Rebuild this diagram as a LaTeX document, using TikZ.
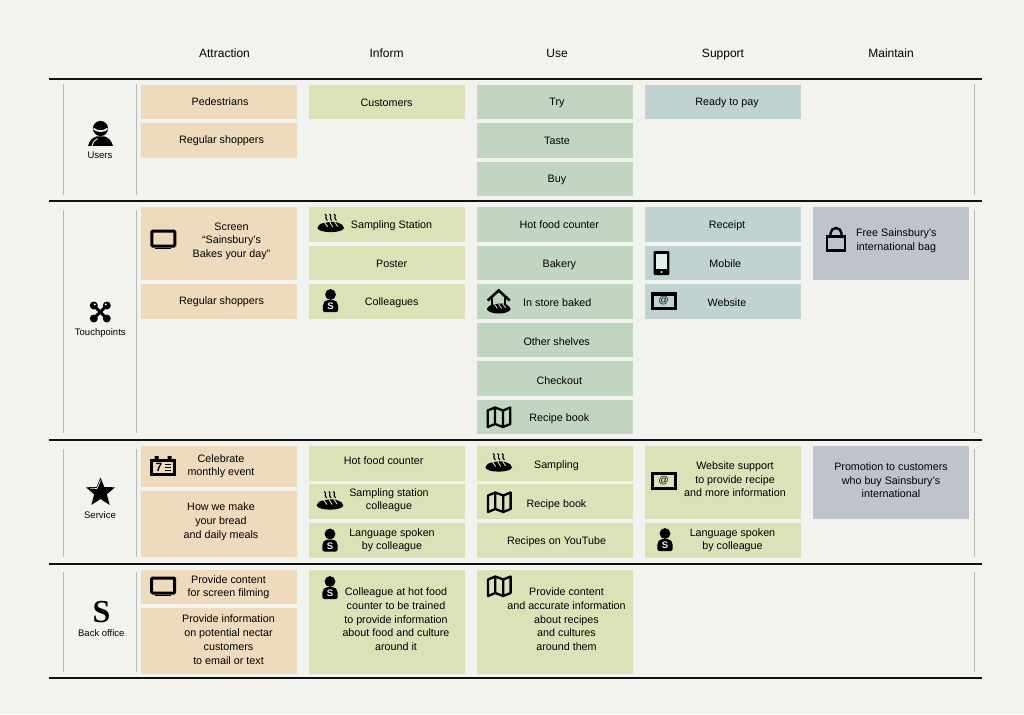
\documentclass[tikz,border=0pt]{standalone}
\usepackage{fontspec}
\setmainfont{Liberation Sans}
\newfontfamily\serifglyph{Liberation Serif}
\usetikzlibrary{
    positioning,
    calc
}
\definecolor{pagefill}{HTML}{F2F3EE}
\definecolor{attractfill}{HTML}{EEDABC}
\definecolor{informfill}{HTML}{DCE1B8}
\definecolor{usefill}{HTML}{C1D5C2}
\definecolor{supportfill}{HTML}{C1D2D2}
\definecolor{maintainfill}{HTML}{BFC3CB}
\definecolor{ruleline}{HTML}{111111}
\definecolor{laneline}{HTML}{B8B9B4}

\tikzset{
    % Icons, each drawn round its own centre
    tvicon/.pic={
        \draw[line width=3, rounded corners=1] (-11.5,-8.5) rectangle (11.5,6.5);
        \fill (-8,8) rectangle (8,9.6);
    },
    loaficon/.pic={
        \fill (-13.3,4.5) .. controls (-12,0) and (-8,-0.5) .. (-6,-0.5)
            .. controls (-3,-2) and (6,-2) .. (8,-0.5)
            .. controls (11,0) and (12.5,2) .. (13.3,4.5)
            .. controls (12,10) and (-12,10) .. (-13.3,4.5) -- cycle;
        \draw[informfill, line width=0.9] (-6,-0.8) -- (-3,3.5) (-1,-1.5) -- (2,3.5) (4,-1.5) -- (7,3);
    },
    breadicon/.pic={
        \pic {loaficon};
        \foreach \steamx in {-4.5,0,4.5}
            \draw[line width=1.1] (\steamx-1.2,-9.5) .. controls (\steamx+2,-7.5) and (\steamx-2.5,-6) .. (\steamx+1.2,-3);
    },
    colleagueicon/.pic={
        \fill (0,-6) circle (5.4);
        \fill[rounded corners=2] (-7.6,11.5) -- (-7.6,3) -- (-4.5,-0.5) -- (4.5,-0.5) -- (7.6,3) -- (7.6,11.5) -- cycle;
        \node[text=pagefill, font=\bfseries\fontsize{9.5}{9.5}\selectfont, inner sep=0pt] (glyph) at (0,5.8) {S};
    },
    phoneicon/.pic={
        \fill[rounded corners=1] (-7.8,-12) rectangle (7.8,12);
        \fill[supportfill!40!white] (-5.6,-9.5) rectangle (5.6,6);
        \fill[supportfill!40!white] (0,9) circle (1.2);
    },
    maileicon/.pic={
        \draw[line width=3.2] (-11.4,-7.4) rectangle (11.4,7.4);
        \node[font=\fontsize{10}{10}\selectfont, inner sep=0pt] (glyph) at (0,-0.5) {@};
    },
    mapicon/.pic={
        \draw[line width=2.3, line join=round] (-11.3,-6.5) -- (-4,-9.5) -- (4,-6.5) -- (11.3,-9.5) -- (11.3,7) -- (4,10) -- (-4,7) -- (-11.3,10) -- cycle
            (-4,-9.5) -- (-4,7) (4,-6.5) -- (4,10);
    },
    houseicon/.pic={
        \draw[line width=2.6] (-11,-1) -- (0,-11) -- (11,-1);
        \draw[line width=2.4] (-6.5,-4) -- (-6.5,4) (6.5,-4) -- (6.5,4);
        \fill (-12,7.5) .. controls (-10,3.5) and (-6,3) .. (-4,3)
            .. controls (0,1.5) and (6,2) .. (8,3)
            .. controls (10,4) and (11,5.5) .. (12,7.5)
            .. controls (10,13.5) and (-10,13.5) .. (-12,7.5) -- cycle;
        \draw[usefill, line width=0.9] (-4,3) -- (-1.5,7) (0,2.5) -- (3,7) (4,2.5) -- (7,6.5);
    },
    calendaricon/.pic={
        \draw[line width=2.8] (-11.6,-5.8) rectangle (11.6,8.4);
        \fill (-8.5,-9.8) rectangle (-4.5,-6) (4.5,-9.8) rectangle (8.5,-6);
        \node[font=\bfseries\fontsize{12}{12}\selectfont, inner sep=0pt] (glyph) at (-4.2,1.3) {7};
        \draw[line width=0.9] (1.5,-1.5) -- (8,-1.5) (1.5,1.3) -- (8,1.3) (1.5,4.1) -- (8,4.1);
    },
    bagicon/.pic={
        \draw[line width=2.4] (-9,-3) rectangle (9,11);
        \draw[line width=2.4] (-5.5,-3) -- (-5.5,-6) arc[start angle=180, end angle=360, radius=5.5] -- (5.5,-3);
    },
    personicon/.pic={
        \fill (0,-5) circle (7.6);
        \draw[pagefill, line width=1.6] (-7,-5) .. controls (-3,-1.4) and (3,-1.4) .. (7,-5);
        \fill (-12.5,12.5) .. controls (-11,7) and (-8,4) .. (-4,3) -- (4,3) .. controls (8,4) and (11,7) .. (12.5,12.5) -- cycle;
        \draw[pagefill, line width=0.9] (-8.5,12.5) .. controls (-7.5,9) and (-6,6.5) .. (-3,5);
    },
    clustericon/.pic={
        \draw[line width=3] (-6.5,-6.5) -- (6.5,6.5) (-6.5,6.5) -- (6.5,-6.5);
        \foreach \spotx/\spoty in {-6.5/-6.5,6.5/-6.5,-6.5/6.5,6.5/6.5}
            \fill (\spotx,\spoty) circle (4);
        \fill[pagefill] (-5.5,-7.5) circle (1.1) (5.5,-7.5) circle (1.1);
    },
    staricon/.pic={
        \fill (0,-15) -- (3.9,-5.4) -- (14.6,-5.2) -- (6.3,1.8) -- (9.2,12.5) -- (0,6.5) -- (-9.2,12.5) -- (-6.3,1.8) -- (-14.6,-5.2) -- (-3.9,-5.4) -- cycle;
        \draw[pagefill, line width=0.7] (0,-12) -- (-3.5,-4) -- (-10,-4.3);
    },
    % Cards and their words
    card/.style={minimum width=155.5, inner sep=0pt, outer sep=0pt},
    attract/.style={card, fill=attractfill},
    inform/.style={card, fill=informfill},
    use/.style={card, fill=usefill},
    support/.style={card, fill=supportfill},
    maintain/.style={card, fill=maintainfill},
    strutted/.style={inner sep=0pt, align=center, yshift=-1.7pt, execute at begin node=\strut, execute at end node=\strut},
    cardtext/.style={strutted, font=\fontsize{10.75}{13.7}\selectfont},
    headtext/.style={strutted, font=\fontsize{12}{14}\selectfont},
    lanetext/.style={strutted, font=\fontsize{9.5}{11}\selectfont},
    rowrule/.style={ruleline, line width=2}
}

\begin{document}
\begin{tikzpicture}[x=1pt, y=-1pt]
    \useasboundingbox[fill=pagefill] (0,0) rectangle (1024,714);

    % column heads
    \node[headtext] (attraction) at (224.5,53.5) {Attraction};
    \node[headtext] (informhead) at (386.5,53.5) {Inform};
    \node[headtext] (usehead) at (557,53.5) {Use};
    \node[headtext] (supporthead) at (723,53.5) {Support};
    \node[headtext] (maintainhead) at (891,53.5) {Maintain};

    % rules between the rows
    \foreach \ruley in {79,201,440,564,678}
        \draw[rowrule] (48.5,\ruley) -- (981.7,\ruley);

    % thin lane edges
    \foreach \lanetop/\lanebot in {84/195,210/433,449/557,572/672}
        \foreach \lanex/\lanewidth in {63.8/0.8,136.8/1.3,974.7/1.2}
            \draw[laneline, line width=\lanewidth] (\lanex,\lanetop) -- (\lanex,\lanebot);

    % row labels
    \pic at (100.5,133.5) {personicon};
    \node[lanetext] (users) at (100,155) {Users};
    \pic at (100.3,312) {clustericon};
    \node[lanetext] (touchpoints) at (100.3,331.5) {Touchpoints};
    \pic at (100.5,492.5) {staricon};
    \node[lanetext] (service) at (100,515) {Service};
    \node[font=\serifglyph\bfseries\fontsize{32}{32}\selectfont, inner sep=0pt] (backglyph) at (101.5,612.5) {S};
    \node[lanetext] (backoffice) at (101.3,632.5) {Back office};

    % users row
    \node[attract, minimum height=34.8] (pedestrians) at (218.8,102) {};
    \node[cardtext] (pedestrianstext) at (220,101) {Pedestrians};
    \node[attract, minimum height=34.8] (regulara) at (218.8,140.3) {};
    \node[cardtext] (regularatext) at (221.5,139.5) {Regular shoppers};
    \node[inform, minimum height=34.8] (customers) at (386.8,102) {};
    \node[cardtext] (customerstext) at (386.5,101.7) {Customers};
    \node[use, minimum height=34.8] (try) at (554.8,102) {};
    \node[cardtext] (trytext) at (557,100.7) {Try};
    \node[use, minimum height=34.8] (taste) at (554.8,140.3) {};
    \node[cardtext] (tastetext) at (557,139.7) {Taste};
    \node[use, minimum height=34.8] (buy) at (554.8,179) {};
    \node[cardtext] (buytext) at (557,178) {Buy};
    \node[support, minimum height=34.8] (ready) at (722.8,102) {};
    \node[cardtext] (readytext) at (727,100.7) {Ready to pay};

    % touchpoints row
    \node[attract, minimum height=73] (screen) at (218.8,243.5) {};
    \node[cardtext] (screentext) at (231.5,240.5) {Screen\\“Sainsbury’s\\Bakes your day”};
    \pic at (163.3,239.5) {tvicon};
    \node[attract, minimum height=34.8] (regularb) at (218.8,301.4) {};
    \node[cardtext] (regularbtext) at (221.5,300.5) {Regular shoppers};
    \node[inform, minimum height=34.8] (station) at (386.8,224.4) {};
    \node[cardtext] (stationtext) at (391.5,224) {Sampling Station};
    \pic at (330.7,223.5) {breadicon};
    \node[inform, minimum height=34.8] (poster) at (386.8,262.9) {};
    \node[cardtext] (postertext) at (391.7,262.7) {Poster};
    \node[inform, minimum height=34.8] (colleagues) at (386.8,301.4) {};
    \node[cardtext] (colleaguestext) at (391.7,301) {Colleagues};
    \pic at (330.5,300.5) {colleagueicon};
    \node[use, minimum height=34.8] (counter) at (554.8,224.4) {};
    \node[cardtext] (countertext) at (559.3,224.3) {Hot food counter};
    \node[use, minimum height=34.8] (bakery) at (554.8,262.9) {};
    \node[cardtext] (bakerytext) at (559.3,263) {Bakery};
    \node[use, minimum height=34.8] (baked) at (554.8,301.4) {};
    \node[cardtext] (bakedtext) at (557.3,301.7) {In store baked};
    \pic at (498.7,301.5) {houseicon};
    \node[use, minimum height=34.8] (shelves) at (554.8,339.9) {};
    \node[cardtext] (shelvestext) at (556.7,340.7) {Other shelves};
    \node[use, minimum height=34.8] (checkout) at (554.8,378.4) {};
    \node[cardtext] (checkouttext) at (559.3,379.7) {Checkout};
    \node[use, minimum height=34.8] (recipeuse) at (554.8,416.9) {};
    \node[cardtext] (recipeusetext) at (559.3,417) {Recipe book};
    \pic at (499,417) {mapicon};
    \node[support, minimum height=34.8] (receipt) at (722.8,224.4) {};
    \node[cardtext] (receipttext) at (727,224.3) {Receipt};
    \node[support, minimum height=34.8] (mobile) at (722.8,262.9) {};
    \node[cardtext] (mobiletext) at (725.3,263) {Mobile};
    \pic at (661.5,263) {phoneicon};
    \node[support, minimum height=34.8] (website) at (722.8,301.4) {};
    \node[cardtext] (websitetext) at (727,301.7) {Website};
    \pic at (663.7,301.3) {maileicon};
    \node[maintain, minimum height=73] (bag) at (890.8,243.5) {};
    \node[cardtext] (bagtext) at (896.3,240) {Free Sainsbury’s\\international bag};
    \pic at (836,239.5) {bagicon};

    % service row
    \node[attract, minimum height=41.4] (celebrate) at (218.8,466.7) {};
    \node[cardtext] (celebratetext) at (221,465.5) {Celebrate\\monthly event};
    \pic at (163.2,466) {calendaricon};
    \node[attract, minimum height=66] (bread) at (218.8,524.3) {};
    \node[cardtext] (breadtext) at (221,521) {How we make\\your bread\\and daily meals};
    \node[inform, minimum height=34.8] (counterb) at (386.8,463.4) {};
    \node[cardtext] (counterbtext) at (383.7,460.5) {Hot food counter};
    \node[inform, minimum height=34.8] (stationb) at (386.8,501.7) {};
    \node[cardtext] (stationbtext) at (389,499.5) {Sampling station\\colleague};
    \pic at (330,501) {breadicon};
    \node[inform, minimum height=34.8] (languagea) at (386.8,540.2) {};
    \node[cardtext] (languageatext) at (392,539.5) {Language spoken\\by colleague};
    \pic at (330,540) {colleagueicon};
    \node[inform, minimum height=34.8] (sampling) at (554.8,463.4) {};
    \node[cardtext] (samplingtext) at (556.5,463.7) {Sampling};
    \pic at (498.7,463) {breadicon};
    \node[inform, minimum height=34.8] (recipeb) at (554.8,501.7) {};
    \node[cardtext] (recipebtext) at (556.5,503) {Recipe book};
    \pic at (499.3,502) {mapicon};
    \node[inform, minimum height=34.8] (youtube) at (554.8,540.2) {};
    \node[cardtext] (youtubetext) at (556.5,540) {Recipes on YouTube};
    \node[inform, minimum height=73] (supportweb) at (722.8,482.5) {};
    \node[cardtext] (supportwebtext) at (735,479.5) {Website support\\to provide recipe\\and more information};
    \pic at (663.7,481) {maileicon};
    \node[inform, minimum height=34.8] (languageb) at (722.8,540.2) {};
    \node[cardtext] (languagebtext) at (732.5,539.5) {Language spoken\\by colleague};
    \pic at (665,539.5) {colleagueicon};
    \node[maintain, minimum height=73] (promotion) at (890.8,482.5) {};
    \node[cardtext] (promotiontext) at (891,480.5) {Promotion to customers\\who buy Sainsbury’s\\international};

    % back office row
    \node[attract, minimum height=34.8] (content) at (218.8,587) {};
    \node[cardtext] (contenttext) at (228.5,586.5) {Provide content\\for screen filming};
    \pic at (163.2,586.5) {tvicon};
    \node[attract, minimum height=66] (nectar) at (218.8,641) {};
    \node[cardtext] (nectartext) at (228.5,640) {Provide information\\on potential nectar\\customers\\to email or text};
    \node[inform, minimum height=104] (trained) at (386.8,621.8) {};
    \node[cardtext] (trainedtext) at (396,619.5) {Colleague at hot food\\counter to be trained\\to provide information\\about food and culture\\around it};
    \pic at (330,587.5) {colleagueicon};
    \node[inform, minimum height=104] (accurate) at (554.8,621.8) {};
    \node[cardtext] (accuratetext) at (566.5,619.5) {Provide content\\and accurate information\\about recipes\\and cultures\\around them};
    \pic at (499.3,586) {mapicon};
\end{tikzpicture}
\end{document}
